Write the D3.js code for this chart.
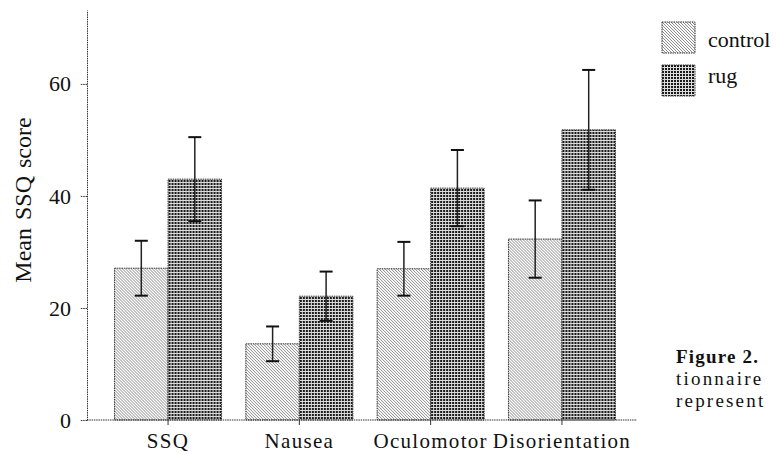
<!DOCTYPE html>
<html>
<head>
<meta charset="utf-8">
<script src="https://cdn.jsdelivr.net/npm/d3@7"></script>
<style>
  html, body { margin: 0; padding: 0; background: #fff; }
  svg { display: block; }
  text { font-family: "Liberation Serif", "Times New Roman", serif; fill: #111; }
</style>
</head>
<body>
<svg id="chart" width="776" height="454"></svg>
<script>
// ---- data ----
const categories = ["SSQ", "Nausea", "Oculomotor", "Disorientation"];
const seriesNames = ["control", "rug"];
const controlMeans = [27.1, 13.6, 27.0, 32.3];
const controlErrors = [4.9, 3.1, 4.8, 6.9];
const rugMeans = [43.0, 22.1, 41.4, 51.8];
const rugErrors = [7.5, 4.4, 6.8, 10.7];
const yTicks = [0, 20, 40, 60];
const yLabel = "Mean SSQ score";
const captionLines = ["Figure 2.", "tionnaire", "represent"];

const svg = d3.select("#chart");

// ---- patterns ----
const defs = svg.append("defs");
const pc = defs.append("pattern").attr("id", "pat-control")
  .attr("patternUnits", "userSpaceOnUse").attr("width", 3).attr("height", 3);
pc.append("rect").attr("width", 3).attr("height", 3).attr("fill", "#fdfdfd");
[[0,0],[1,1],[2,2]].forEach(([a,b]) => pc.append("rect").attr("x", a).attr("y", b)
  .attr("width", 1).attr("height", 1).attr("fill", "#8c8c8c"));

const pr = defs.append("pattern").attr("id", "pat-rug")
  .attr("patternUnits", "userSpaceOnUse").attr("width", 3).attr("height", 3);
pr.append("rect").attr("width", 3).attr("height", 3).attr("fill", "#dcdcdc");
pr.append("rect").attr("x", 0).attr("y", 0).attr("width", 2).attr("height", 2).attr("fill", "#1a1a1a");

const fills = { control: "url(#pat-control)", rug: "url(#pat-rug)" };

// ---- scales ----
const axisX = 87;
const x0 = d3.scaleBand().domain(categories).range([90, 640])
  .paddingInner(0.185).paddingOuter(0.187);
const x1 = d3.scaleBand().domain(seriesNames).range([0, x0.bandwidth()]).padding(0);
const y = d3.scaleLinear().domain([0, 73.2]).range([420, 10]);

const rows = categories.map((c, i) => ({
  cat: c,
  vals: [
    { s: "control", v: controlMeans[i], e: controlErrors[i] },
    { s: "rug", v: rugMeans[i], e: rugErrors[i] }
  ]
}));

// ---- bars ----
const g = svg.append("g");
const groups = g.selectAll("g.grp").data(rows).join("g")
  .attr("transform", d => `translate(${x0(d.cat)},0)`);

groups.selectAll("rect").data(d => d.vals).join("rect")
  .attr("x", d => x1(d.s))
  .attr("y", d => y(d.v))
  .attr("width", x1.bandwidth())
  .attr("height", d => y(0) - y(d.v))
  .attr("fill", d => fills[d.s])
  .attr("stroke", "#333")
  .attr("stroke-width", 1)
  .attr("stroke-dasharray", "1.5 0.8");

// ---- error bars ----
const eb = groups.selectAll("g.eb").data(d => d.vals).join("g").attr("class", "eb");
eb.append("line")
  .attr("x1", d => x1(d.s) + x1.bandwidth() / 2)
  .attr("x2", d => x1(d.s) + x1.bandwidth() / 2)
  .attr("y1", d => y(d.v + d.e))
  .attr("y2", d => y(d.v - d.e))
  .attr("stroke", "#222").attr("stroke-width", 1.5);
[1, -1].forEach(sign => {
  eb.append("line")
    .attr("x1", d => x1(d.s) + x1.bandwidth() / 2 - 6.5)
    .attr("x2", d => x1(d.s) + x1.bandwidth() / 2 + 6.5)
    .attr("y1", d => y(d.v + sign * d.e))
    .attr("y2", d => y(d.v + sign * d.e))
    .attr("stroke", "#111").attr("stroke-width", 2);
});

// ---- axes ----
const yAxis = svg.append("g").attr("transform", `translate(${axisX},0)`)
  .call(d3.axisLeft(y).tickValues(yTicks).tickSize(7).tickSizeOuter(0).tickPadding(9));
yAxis.select(".domain").attr("stroke", "#333").attr("stroke-dasharray", "1.5 0.8");
yAxis.selectAll(".tick line").attr("stroke", "#333").attr("stroke-dasharray", "1.5 0.8");
yAxis.selectAll(".tick text").style("font-size", "22px").attr("fill", "#111");

const xAxis = svg.append("g").attr("transform", `translate(0,${y(0)})`)
  .call(d3.axisBottom(x0).tickSize(5).tickSizeOuter(0).tickPadding(8));
xAxis.select(".domain").remove();
xAxis.selectAll(".tick line").attr("stroke", "#333");
xAxis.selectAll(".tick text").style("font-size", "21px").style("letter-spacing", "1.3px")
  .attr("fill", "#111").attr("dy", "0.71em");
xAxis.append("line")
  .attr("x1", axisX).attr("x2", x0.range()[1] - 3)
  .attr("y1", 0).attr("y2", 0)
  .attr("stroke", "#333").attr("stroke-width", 1).attr("stroke-dasharray", "1.5 0.8");

// y axis label
svg.append("text")
  .attr("transform", "translate(31,200) rotate(-90)")
  .attr("text-anchor", "middle")
  .style("font-size", "24px")
  .style("word-spacing", "2px")
  .text(yLabel);

// ---- legend ----
const legend = svg.append("g").attr("transform", "translate(662,22)");
const li = legend.selectAll("g").data(seriesNames).join("g")
  .attr("transform", (d, i) => `translate(0,${i * 43})`);
li.append("rect").attr("width", 33).attr("height", 31)
  .attr("fill", d => fills[d]).attr("stroke", "#333").attr("stroke-dasharray", "1.5 0.8");
li.append("text").attr("x", 46).style("font-size", "22px")
  .text(d => d)
  .attr("y", (d, i) => i === 0 ? 25 : 18);

// ---- caption fragment ----
svg.append("g").selectAll("text").data(captionLines).join("text")
  .attr("x", 676)
  .attr("y", (d, i) => 363 + i * 22)
  .style("font-size", "19px")
  .style("letter-spacing", (d, i) => i === 0 ? "1.2px" : "2.2px")
  .style("font-weight", (d, i) => i === 0 ? "bold" : "normal")
  .text(d => d);
</script>
</body>
</html>
